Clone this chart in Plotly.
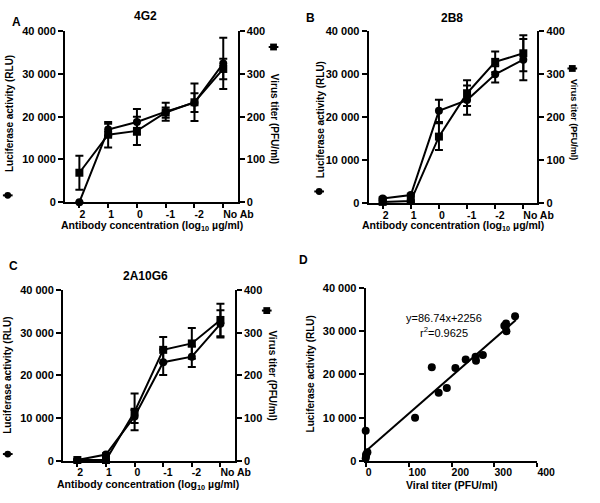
import plotly.graph_objects as go

W, H = 600, 503

categories = ["2", "1", "0", "-1", "-2", "No Ab"]

# Panel A: 4G2
A_luc = [0, 17000, 18800, 21200, 23300, 32500]
A_luc_err = [0, 1400, 3000, 2100, 2200, 6000]
A_titer = [69, 158, 167, 210, 234, 312]
A_titer_err = [40, 30, 33, 12, 44, 24]

# Panel B: 2B8
B_luc = [1100, 1900, 21500, 24000, 30000, 33400]
B_luc_err = [300, 300, 2600, 3400, 1900, 4800]
B_titer = [3, 5, 155, 256, 329, 349]
B_titer_err = [2, 2, 31, 30, 24, 42]

# Panel C: 2A10G6
C_luc = [200, 1500, 10400, 23100, 24400, 32100]
C_luc_err = [200, 300, 1500, 3000, 2400, 3200]
C_titer = [2, 2, 115, 260, 275, 330]
C_titer_err = [1, 1, 43, 30, 36, 38]

# Panel D: correlation
D_titer = [0, 1, 4, 1, 0, 115, 154, 170, 189, 209, 233, 256, 257, 273, 323, 327, 328, 348, 326]
D_luc = [7000, 1500, 2000, 1200, 600, 10000, 21700, 15800, 16900, 21500, 23500, 24100,
         23200, 24500, 31300, 31800, 30000, 33500, 31000]
fit_slope = 86.74
fit_intercept = 2256
fit_x = [0, 350]

left_ticks = [0, 10000, 20000, 30000, 40000]
left_ticktext = ["0", "10 000", "20 000", "30 000", "40 000"]
right_ticks = [0, 100, 200, 300, 400]
d_xticks = [0, 100, 200, 300, 400]

FONT = "Liberation Sans, Arial, sans-serif"


def px(x):
    return x / W


def py(y):
    return 1 - y / H


fig = go.Figure()
idx = list(range(len(categories)))

panels = [
    ("A", "x", "y", "y2", A_luc, A_luc_err, A_titer, A_titer_err, (67, 245), (201, 26)),
    ("B", "x2", "y3", "y4", B_luc, B_luc_err, B_titer, B_titer_err, (380, 554), (202, 26)),
    ("C", "x3", "y5", "y6", C_luc, C_luc_err, C_titer, C_titer_err, (65, 242), (466, 291)),
]

tickfont = dict(family=FONT, size=11, color="black", weight="bold")
xtickfont = dict(family=FONT, size=10.5, color="black", weight="bold")
axis_common = dict(showline=True, linecolor="black", linewidth=2, ticks="outside",
                   ticklen=5, tickwidth=2, tickcolor="black", showgrid=False,
                   zeroline=False, tickfont=tickfont)
xaxis_extra = dict(tickangle=0.01, tickfont=xtickfont, ticklabelstandoff=-3, ticklen=4)

layout_axes = {}


def axname(ref):
    if ref.startswith("x"):
        return "xaxis" + ref[1:]
    return "yaxis" + ref[1:]


for name, xr, yl, yr, luc, lucerr, tit, titerr, xd, yd in panels:
    fig.add_trace(go.Scatter(
        x=idx, y=luc, xaxis=xr, yaxis=yl, mode="lines+markers",
        line=dict(color="black", width=2),
        marker=dict(symbol="circle", size=8, color="black"),
        error_y=dict(type="data", array=lucerr, visible=True, color="black", thickness=2, width=4),
        cliponaxis=False, showlegend=False))
    fig.add_trace(go.Scatter(
        x=idx, y=tit, xaxis=xr, yaxis=yr, mode="lines+markers",
        line=dict(color="black", width=2),
        marker=dict(symbol="square", size=8, color="black"),
        error_y=dict(type="data", array=titerr, visible=True, color="black", thickness=2, width=4),
        cliponaxis=False, showlegend=False))
    layout_axes[axname(xr)] = dict(axis_common, **xaxis_extra,
                                   domain=[px(xd[0]), px(xd[1])], anchor=yl,
                                   range=[-0.5, 5.5], tickvals=idx, ticktext=categories)
    layout_axes[axname(yl)] = dict(axis_common, domain=[py(yd[0]), py(yd[1])], anchor=xr,
                                   range=[0, 40000], tickvals=left_ticks, ticktext=left_ticktext)
    layout_axes[axname(yr)] = dict(axis_common, overlaying=yl, anchor=xr, side="right",
                                   range=[0, 400], tickvals=right_ticks,
                                   ticktext=[str(v) for v in right_ticks])

# Panel D
fig.add_trace(go.Scatter(
    x=D_titer, y=D_luc, xaxis="x4", yaxis="y7", mode="markers",
    marker=dict(symbol="circle", size=8, color="black"), cliponaxis=False, showlegend=False))
fig.add_trace(go.Scatter(
    x=fit_x, y=[fit_slope * v + fit_intercept for v in fit_x], xaxis="x4", yaxis="y7",
    mode="lines", line=dict(color="black", width=2), cliponaxis=False, showlegend=False))
layout_axes["xaxis4"] = dict(axis_common, **xaxis_extra, domain=[px(377), px(554)], anchor="y7",
                             range=[0, 400], tickvals=d_xticks,
                             ticktext=[str(v) for v in d_xticks])
layout_axes["yaxis7"] = dict(axis_common, domain=[py(466), py(289)], anchor="x4",
                             range=[0, 40000], tickvals=left_ticks, ticktext=left_ticktext)

annotations = []


def text(x, y, t, size=11, bold=True, angle=0, xanchor="center"):
    annotations.append(dict(
        x=px(x), y=py(y), xref="paper", yref="paper", text=t, showarrow=False,
        textangle=angle, xanchor=xanchor, yanchor="middle",
        font=dict(family=FONT, size=size, color="black", weight="bold" if bold else "normal")))


xtitle = "Antibody concentration (log<sub>10</sub> µg/ml)"
text(17, 16, "A", 12)
text(150, 10, "4G2", 12)
text(320, 12, "B", 12)
text(466, 12, "2B8", 12)
text(14, 266, "C", 12)
text(150, 277, "2A10G6", 12)
text(313, 260, "D", 12)

text(157, 225, xtitle, 10.5)
text(467, 225, xtitle, 10.5)
text(153, 491, xtitle, 10.5)
text(465, 491, "Viral titer (PFU/ml)", 10.5)

text(10, 110, "Luciferase activity (RLU)", 10, angle=-90)
text(330, 117, "Luciferase activity (RLU)", 10, angle=-90)
text(8, 378, "Luciferase activity (RLU)", 10, angle=-90)
text(320, 377, "Luciferase activity (RLU)", 10, angle=-90)

text(283, 115, "Virus titer (PFU/ml)", 10, angle=90)
text(592, 116, "Virus titer (PFU/ml)", 9, angle=90)
text(280, 378, "Virus titer (PFU/ml)", 10, angle=90)

text(458, 320, "y=86.74x+2256", 11, bold=False)
text(458, 334, "r<sup>2</sup>=0.9625", 11, bold=False)

shapes = []


def sym_circle(cx, cy):
    shapes.append(dict(type="line", xref="paper", yref="paper",
                       x0=px(cx - 5), x1=px(cx + 5), y0=py(cy), y1=py(cy),
                       line=dict(color="black", width=2)))
    shapes.append(dict(type="circle", xref="paper", yref="paper",
                       x0=px(cx - 3.5), x1=px(cx + 3.5), y0=py(cy - 3.5), y1=py(cy + 3.5),
                       fillcolor="black", line=dict(color="black", width=0)))


def sym_square(cx, cy):
    shapes.append(dict(type="line", xref="paper", yref="paper",
                       x0=px(cx - 5), x1=px(cx + 5), y0=py(cy), y1=py(cy),
                       line=dict(color="black", width=2)))
    shapes.append(dict(type="rect", xref="paper", yref="paper",
                       x0=px(cx - 3.5), x1=px(cx + 3.5), y0=py(cy - 3.5), y1=py(cy + 3.5),
                       fillcolor="black", line=dict(color="black", width=0)))


sym_circle(8, 194)
sym_circle(329, 190)
sym_circle(8, 459)
sym_square(282, 42)
sym_square(590, 64)
sym_square(275, 312)

fig.update_layout(
    autosize=True, margin=dict(l=0, r=0, t=0, b=0),
    paper_bgcolor="white", plot_bgcolor="white",
    font=dict(family=FONT, size=11, color="black"),
    annotations=annotations, shapes=shapes, showlegend=False,
    **layout_axes)

fig.write_html(
    "out.html",
    default_width="100vw", default_height="100vh",
    config={"responsive": True, "displayModeBar": False, "staticPlot": True},
    post_script=(
        "var s=document.createElement('style');"
        "s.textContent='html,body{margin:0;padding:0;overflow:hidden}';"
        "document.head.appendChild(s);"
    ))
